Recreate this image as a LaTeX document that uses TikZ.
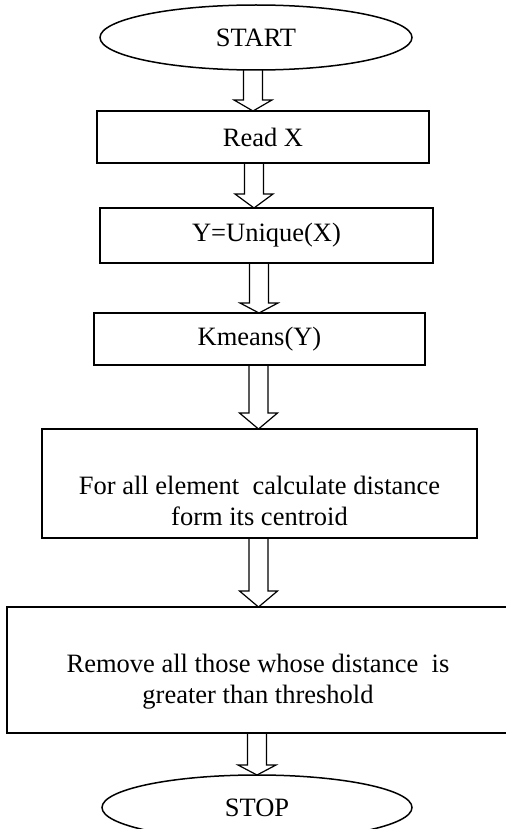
\documentclass[tikz,border=0pt]{standalone}
\usepackage{fontspec}
\setmainfont{Liberation Serif}
\usetikzlibrary{calc,positioning,shapes.geometric}

\newcommand{\harrow}[4]{%
  \draw[harr] let \p1=(#1.south), \p2=(#2.north) in
    (\x1+#3-4.75pt,\y1) -- (\x1+#3-4.75pt,\y2+#4) -- (\x1+#3-9.5pt,\y2+#4)
    -- (\x1+#3,\y2) -- (\x1+#3+9.5pt,\y2+#4) -- (\x1+#3+4.75pt,\y2+#4)
    -- (\x1+#3+4.75pt,\y1);}

\begin{document}
\begin{tikzpicture}[
  every node/.style={font=\fontsize{13.25pt}{15.3pt}\selectfont},
  box/.style={draw,line width=1pt,outer sep=0pt,inner sep=0pt,align=center},
  term/.style={draw,ellipse,line width=0.75pt,outer sep=0pt,
               minimum width=156pt,minimum height=32.5pt},
  harr/.style={line width=0.6pt,line join=miter}
]
\useasboundingbox (0,0) rectangle (253pt,-414.5pt);
\clip (0,0) rectangle (253pt,-414.5pt);
\node[term] (start) at (128pt,-18.75pt) {START};
\node[box,minimum width=166pt,minimum height=26pt,
      below=20.5pt of start,xshift=3.5pt] (read) {Read X};
\node[box,minimum width=166.5pt,minimum height=27.5pt,
      below=22.5pt of read,xshift=1.75pt] (uniq) {Y=Unique(X)};
\node[box,minimum width=165.5pt,minimum height=26pt,
      below=25pt of uniq,xshift=-3.5pt] (kmeans) {Kmeans(Y)};
\node[box,minimum width=217.5pt,minimum height=54.5pt,below=32pt of kmeans]
 (dist) {\rule{0pt}{26.8pt}For all element\ \ calculate distance\\form its centroid};
\node[box,minimum width=251pt,minimum height=63pt,
      below=34.5pt of dist,xshift=-0.75pt] (remove)
 {\rule{0pt}{20.9pt}Remove all those whose distance\ \ is\\greater than threshold};
\node[term,minimum width=155pt,below=21pt of remove,xshift=-0.5pt] (stop) {STOP};
\harrow{start}{read}{-1.5pt}{5.5pt}
\harrow{read}{uniq}{-4.5pt}{7pt}
\harrow{uniq}{kmeans}{-3.75pt}{5pt}
\harrow{kmeans}{dist}{-0.5pt}{8pt}
\harrow{dist}{remove}{-0.5pt}{8pt}
\harrow{remove}{stop}{-0.5pt}{5pt}
\end{tikzpicture}
\end{document}
